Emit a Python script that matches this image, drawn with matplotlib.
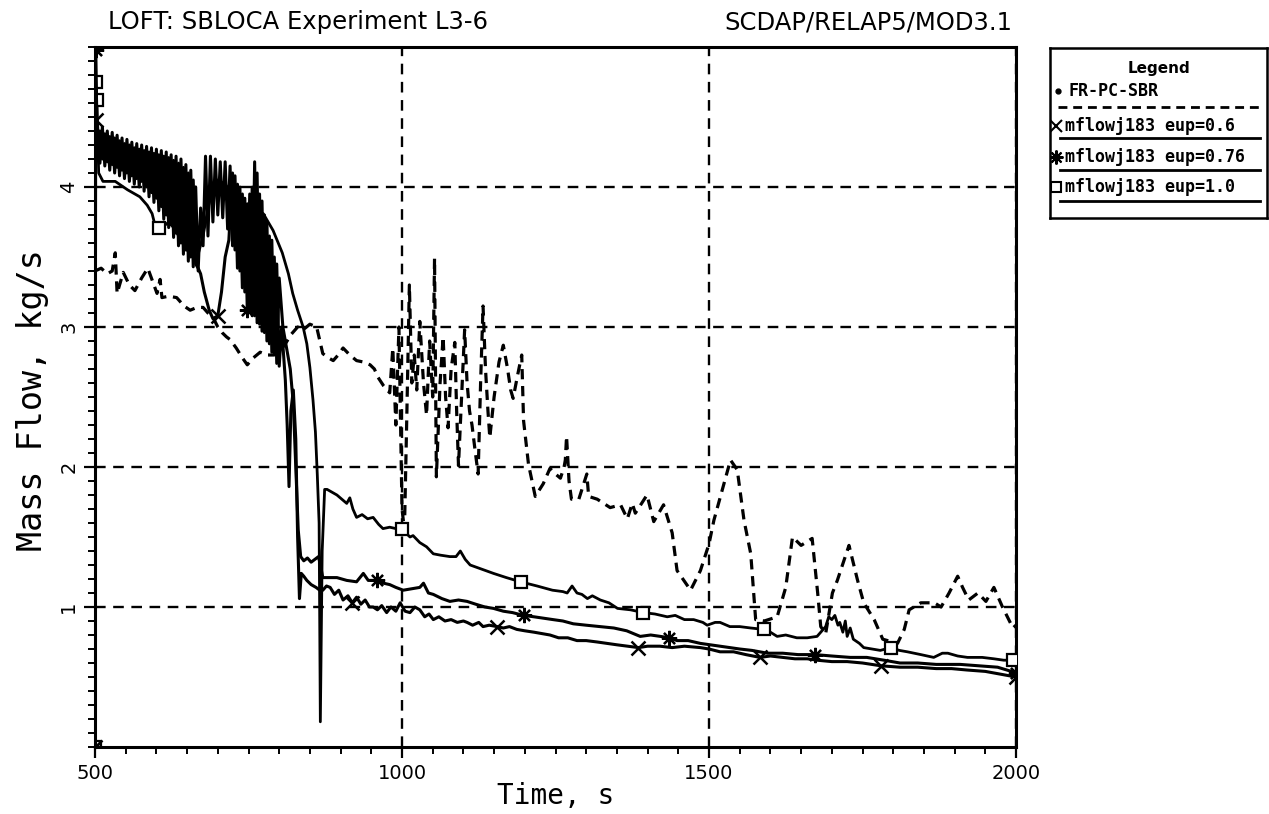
import numpy as np
import matplotlib
matplotlib.use("Agg")
import matplotlib.pyplot as plt
from matplotlib.ticker import MultipleLocator, FixedLocator

# ---------------- data ----------------
# experimental data FR-PC-SBR
exp_t = [500, 510, 520, 528, 533, 536, 546, 556, 565, 576, 586, 596, 601, 606, 609, 620, 633, 645,
         655, 666, 676, 684, 692, 700, 707, 714, 720, 730, 740, 748, 758, 769, 780, 790, 800, 810,
         820, 830, 839, 850, 861, 871, 880, 888, 896, 904, 915, 926, 937, 948, 955, 961, 970, 980,
         985, 990, 995, 1000, 1004, 1008, 1012, 1016, 1020, 1024, 1029, 1035, 1040, 1045, 1050,
         1053, 1056, 1062, 1067, 1071, 1075, 1080, 1086, 1089, 1092, 1097, 1102, 1106, 1110, 1114,
         1119, 1124, 1128, 1132, 1136, 1140, 1143, 1150, 1158, 1165, 1172, 1177, 1181, 1188, 1195,
         1198, 1206, 1217, 1230, 1241, 1250, 1258, 1264, 1266, 1268, 1272, 1276, 1288, 1301, 1304,
         1318, 1339, 1356, 1367, 1375, 1380, 1399, 1410, 1426, 1440, 1448, 1470, 1486, 1500, 1508,
         1535, 1546, 1557, 1568, 1576, 1590, 1611, 1625, 1636, 1650, 1668, 1677, 1682, 1690, 1701,
         1709, 1728, 1742, 1752, 1769, 1783, 1807, 1818, 1826, 1845, 1867, 1878, 1891, 1905, 1913,
         1923, 1938, 1951, 1964, 1978, 1995, 2000]
exp_v = [3.40, 3.42, 3.38, 3.40, 3.53, 3.24, 3.39, 3.30, 3.26, 3.35, 3.42, 3.30, 3.24, 3.34, 3.21,
         3.22, 3.21, 3.15, 3.12, 3.14, 3.14, 3.10, 3.07, 3.00, 2.96, 2.93, 2.91, 2.85, 2.78, 2.73,
         2.78, 2.82, 2.80, 2.80, 2.82, 2.88, 2.95, 3.00, 2.98, 3.02, 3.00, 2.81, 2.78, 2.76, 2.80,
         2.85, 2.80, 2.76, 2.75, 2.73, 2.70, 2.64, 2.58, 2.53, 2.85, 2.30, 3.00, 1.70, 1.55, 2.40,
         3.30, 2.60, 2.80, 2.55, 3.04, 2.60, 2.37, 2.90, 2.50, 3.49, 1.93, 2.60, 2.93, 2.50, 2.28,
         2.70, 2.89, 2.40, 2.01, 2.50, 2.98, 2.60, 2.40, 2.30, 2.12, 1.95, 2.60, 3.15, 2.70, 2.40,
         2.21, 2.50, 2.75, 2.87, 2.70, 2.55, 2.49, 2.65, 2.80, 2.33, 2.02, 1.79, 1.88, 1.99, 1.95,
         1.92, 2.00, 2.05, 2.22, 1.90, 1.77, 1.77, 1.95, 1.79, 1.77, 1.71, 1.73, 1.63, 1.74, 1.67,
         1.80, 1.61, 1.73, 1.53, 1.26, 1.12, 1.26, 1.45, 1.62, 2.05, 1.98, 1.62, 1.38, 0.91, 0.90,
         0.93, 1.14, 1.50, 1.44, 1.49, 1.10, 0.86, 0.81, 1.10, 1.19, 1.44, 1.19, 1.03, 0.91, 0.77,
         0.74, 0.84, 0.98, 1.03, 1.03, 1.00, 1.10, 1.22, 1.14, 1.05, 1.10, 1.04, 1.14, 1.00, 0.85,
         0.87]

# mflowj183 eup=1.0 (squares)
a_t = [500, 501, 503, 506, 513, 533, 553, 573, 585, 593, 597, 604, 612, 620, 630, 640, 650, 660,
       668, 676, 684, 692, 700, 712, 724, 736, 748, 760, 774, 790, 805, 815, 822, 830, 839, 845,
       850, 855, 859, 862, 865, 867, 870, 874, 878, 886, 894, 902, 910, 915, 920, 926, 935, 944,
       953, 962, 969, 980, 990, 1000, 1006, 1013, 1018, 1029, 1040, 1051, 1063, 1078, 1088, 1095,
       1103, 1111, 1130, 1149, 1170, 1193, 1220, 1245, 1262, 1269, 1277, 1285, 1293, 1302, 1310,
       1323, 1337, 1351, 1372, 1393, 1412, 1432, 1445, 1460, 1475, 1490, 1497, 1510, 1518, 1534,
       1550, 1568, 1589, 1600, 1611, 1625, 1643, 1660, 1676, 1684, 1690, 1695, 1700, 1705, 1710,
       1713, 1718, 1722, 1725, 1730, 1735, 1745, 1752, 1765, 1779, 1796, 1810, 1823, 1845, 1866,
       1880, 1889, 1905, 1921, 1945, 1964, 1980, 1995, 2000]
a_v = [0.00, 4.75, 4.62, 4.10, 4.04, 4.04, 3.98, 3.93, 3.87, 3.81, 3.74, 3.71, 3.72, 3.75, 3.70,
       3.62, 3.55, 3.50, 3.52, 3.65, 3.85, 4.00, 4.05, 4.02, 3.95, 3.88, 3.85, 3.84, 3.81, 3.69,
       3.53, 3.38, 3.24, 3.12, 3.00, 2.88, 2.71, 2.48, 2.25, 1.95, 1.60, 0.18, 1.40, 1.84, 1.84,
       1.82, 1.80, 1.77, 1.74, 1.78, 1.70, 1.64, 1.66, 1.63, 1.64, 1.59, 1.56, 1.57, 1.56, 1.56,
       1.53, 1.50, 1.51, 1.46, 1.43, 1.38, 1.37, 1.36, 1.36, 1.40, 1.34, 1.30, 1.27, 1.24, 1.21,
       1.18, 1.15, 1.12, 1.11, 1.10, 1.15, 1.10, 1.09, 1.06, 1.08, 1.05, 1.03, 0.99, 0.98, 0.96,
       0.95, 0.93, 0.94, 0.91, 0.91, 0.89, 0.87, 0.89, 0.89, 0.86, 0.86, 0.85, 0.84, 0.82, 0.79,
       0.80, 0.78, 0.78, 0.79, 0.83, 0.86, 0.93, 0.91, 0.94, 0.87, 0.89, 0.82, 0.90, 0.79, 0.85,
       0.77, 0.74, 0.71, 0.70, 0.69, 0.71, 0.69, 0.68, 0.66, 0.64, 0.67, 0.67, 0.65, 0.64, 0.64,
       0.63, 0.62, 0.62, 0.61]

# mflowj183 eup=0.76 (asterisks)
b_t = [500, 501, 503] + list(range(504, 804, 4)) + [
       806, 812, 818, 823, 827, 831, 835, 840, 846, 852, 858, 864, 868, 871, 880, 894, 910, 926,
       937, 945, 959, 970, 980, 990, 1002, 1015, 1029, 1035, 1043, 1051, 1065, 1078, 1092, 1106,
       1120, 1135, 1149, 1165, 1180, 1198, 1215, 1230, 1246, 1262, 1279, 1300, 1323, 1345, 1366,
       1388, 1405, 1421, 1435, 1448, 1466, 1486, 1518, 1550, 1570, 1595, 1620, 1645, 1673, 1700,
       1730, 1757, 1785, 1811, 1840, 1870, 1909, 1940, 1970, 2000]
b_v = [0.00, 4.98, 4.50,
       4.45, 4.17, 4.43, 4.15, 4.40, 4.12, 4.39, 4.10, 4.37, 4.08, 4.35, 4.06, 4.34, 4.04, 4.32,
       4.02, 4.31, 4.00, 4.30, 3.97, 4.29, 3.93, 4.28, 3.89, 4.27, 3.83, 4.26, 3.77, 4.25, 3.71,
       4.23, 3.64, 4.22, 3.58, 4.20, 3.52, 4.16, 3.47, 4.12, 3.43, 4.00, 3.40, 3.85, 3.58, 4.22,
       3.65, 4.22, 3.75, 4.20, 3.80, 4.18, 3.78, 4.18, 3.70, 4.15, 3.58, 4.08, 3.42, 4.00, 3.28,
       3.92, 3.12, 3.95, 3.08, 4.18, 3.03, 3.95, 2.97, 3.80, 2.90, 3.65, 2.82, 3.50, 2.74, 3.35,
       3.00, 2.85, 2.70, 2.45, 2.00, 1.55, 1.36, 1.33, 1.35, 1.32, 1.34, 1.36, 1.28, 1.21, 1.21,
       1.21, 1.19, 1.18, 1.24, 1.19, 1.19, 1.17, 1.16, 1.14, 1.12, 1.13, 1.14, 1.17, 1.10, 1.09,
       1.06, 1.04, 1.05, 1.04, 1.02, 1.00, 0.99, 0.97, 0.96, 0.94, 0.93, 0.92, 0.91, 0.90, 0.88,
       0.87, 0.86, 0.85, 0.83, 0.79, 0.80, 0.79, 0.78, 0.76, 0.76, 0.74, 0.72, 0.70, 0.69, 0.67,
       0.67, 0.66, 0.66, 0.65, 0.64, 0.64, 0.62, 0.60, 0.60, 0.59, 0.59, 0.58, 0.57, 0.53]

# mflowj183 eup=0.6 (crosses)
c_t = [500, 501, 503] + list(range(508, 668, 4)) + [
       668, 672, 678, 686, 692, 700, 706, 712, 718] + list(range(724, 808, 4)) + [
       810, 813, 816, 819, 823, 827, 830, 833, 836, 840, 845, 852, 860, 866, 871, 877, 883,
       890, 897, 904, 912, 919, 926, 933, 940, 947, 953, 960, 967, 975, 982, 990, 997, 1005, 1013,
       1021, 1029, 1037, 1044, 1051, 1060, 1070, 1080, 1090, 1100, 1106, 1115, 1125, 1132, 1142,
       1155, 1165, 1175, 1187, 1200, 1215, 1228, 1241, 1255, 1270, 1285, 1300, 1318, 1334, 1350,
       1368, 1385, 1400, 1420, 1440, 1460, 1486, 1500, 1518, 1540, 1560, 1583, 1600, 1620, 1640,
       1660, 1676, 1700, 1725, 1750, 1780, 1811, 1840, 1870, 1895, 1920, 1950, 1975, 2000]
c_v = [0.00, 4.48, 4.35,
       4.40, 4.20, 4.38, 4.18, 4.36, 4.16, 4.35, 4.14, 4.33, 4.12, 4.31, 4.10, 4.30, 4.08, 4.28,
       4.06, 4.27, 4.04, 4.26, 4.00, 4.25, 3.96, 4.24, 3.92, 4.23, 3.86, 4.22, 3.80, 4.21, 3.73,
       4.19, 3.67, 4.17, 3.60, 4.14, 3.55, 4.10, 3.50, 4.05, 3.45,
       3.42, 3.38, 3.25, 3.12, 3.06, 3.08, 3.25, 3.50, 3.62,
       4.10, 3.55, 4.02, 3.40, 3.95, 3.25, 3.88, 3.13, 4.00, 3.08, 4.10, 3.02, 3.90, 2.96, 3.75,
       2.88, 3.62, 2.80, 3.45, 2.72, 3.00,
       2.62, 2.30, 1.86, 2.40, 2.55, 2.20, 1.50, 1.06, 1.24, 1.22, 1.19, 1.16, 1.14, 1.12,
       1.12, 1.15, 1.14, 1.09, 1.12, 1.05, 1.08, 1.03, 1.07, 1.02, 1.05, 1.00, 1.00, 0.98, 1.01,
       0.96, 1.00, 0.97, 1.03, 0.97, 0.96, 1.00, 0.98, 0.93, 0.95, 0.91, 0.93, 0.90, 0.91, 0.89,
       0.90, 0.89, 0.87, 0.89, 0.86, 0.87, 0.86, 0.85, 0.86, 0.84, 0.83, 0.82, 0.81, 0.80, 0.78,
       0.78, 0.76, 0.76, 0.75, 0.74, 0.73, 0.72, 0.71, 0.72, 0.72, 0.71, 0.72, 0.71, 0.70, 0.68,
       0.68, 0.66, 0.64, 0.65, 0.64, 0.63, 0.63, 0.62, 0.61, 0.61, 0.60, 0.58, 0.57, 0.57, 0.56,
       0.56, 0.55, 0.54, 0.52, 0.50]

# marker times
a_marks = [500, 501, 503, 604, 1000, 1193, 1393, 1589, 1796, 1995]
b_marks = [500, 501, 748, 959, 1198, 1435, 1673, 2000]
c_marks = [500, 501, 700, 919, 1155, 1385, 1583, 1780, 2000]

x_ticks = [500, 1000, 1500, 2000]
y_ticks = [1, 2, 3, 4]
title_left = "LOFT: SBLOCA Experiment L3-6"
title_right = "SCDAP/RELAP5/MOD3.1"
legend_labels = ["FR-PC-SBR", "mflowj183 eup=0.6", "mflowj183 eup=0.76", "mflowj183 eup=1.0"]

# ---------------- plot ----------------
plt.rcParams['font.family'] = ['DejaVu Sans']
W, H = 1269, 814
fig = plt.figure(figsize=(W / 100, H / 100), dpi=100)
ax = fig.add_axes([95 / W, 1 - 747 / H, (1016 - 95) / W, (747 - 47) / H])
ax.set_xlim(500, 2000)
ax.set_ylim(0, 5)


def idx(t, marks):
    t = np.asarray(t, dtype=float)
    return [int(np.argmin(np.abs(t - m))) for m in marks]


ax.plot(exp_t, exp_v, color='black', lw=2.3, linestyle=(0, (3.2, 2.1)), zorder=3)
ax.plot(a_t, a_v, color='black', lw=2.0, marker='s', ms=8, mfc='white', mec='black', mew=1.6,
        markevery=idx(a_t, a_marks), zorder=4)
ax.plot(b_t, b_v, color='black', lw=2.2, marker=(8, 2, 0), ms=11, mec='black', mew=1.6,
        markevery=idx(b_t, b_marks), zorder=4)
ax.plot(c_t, c_v, color='black', lw=2.2, marker='x', ms=10, mec='black', mew=1.8,
        markevery=idx(c_t, c_marks), zorder=4)

ax.xaxis.set_major_locator(FixedLocator(x_ticks))
ax.xaxis.set_minor_locator(MultipleLocator(50))
ax.yaxis.set_major_locator(FixedLocator(y_ticks))
ax.yaxis.set_minor_locator(MultipleLocator(0.1))
ax.tick_params(which='major', direction='out', length=8, width=1.6, labelsize=14, pad=4)
ax.tick_params(which='minor', direction='out', length=5, width=1.4)
for lab in ax.get_yticklabels():
    lab.set_rotation(90)
    lab.set_va('center')
ax.grid(True, which='major', color='black', linestyle=(0, (4.5, 3.2)), linewidth=1.7, zorder=1)
for sp in ax.spines.values():
    sp.set_linewidth(2.2)

fig.text(108 / W, 1 - 22 / H, title_left, fontsize=17.5, ha='left', va='center')
fig.text(1012 / W, 1 - 22 / H, title_right, fontsize=17.5, ha='right', va='center')
fig.text(556 / W, 1 - 796 / H, "Time, s", fontsize=20, family='DejaVu Sans Mono',
         ha='center', va='center')
fig.text(33 / W, 1 - 400 / H, "Mass Flow, kg/s", fontsize=24, family='DejaVu Sans Mono',
         ha='center', va='center', rotation=90)

# legend box
lg = fig.add_axes([1050 / W, 1 - 218 / H, 217 / W, 170 / H])
lg.set_xlim(0, 217)
lg.set_ylim(170, 0)
lg.set_xticks([])
lg.set_yticks([])
for sp in lg.spines.values():
    sp.set_linewidth(1.8)
lg.text(109, 20, "Legend", fontsize=11, fontweight='bold', ha='center', va='center')
lg.plot([8], [43], marker='o', ms=3.5, color='black')
lg.text(18, 43, legend_labels[0], fontsize=12, fontweight='bold', family='DejaVu Sans Mono',
        ha='left', va='center')
lg.plot([8, 210], [59, 59], color='black', lw=2.0, linestyle=(0, (3.2, 2.1)))
rows = [(78, 90, 'x', 9, legend_labels[1]), (109, 122, (8, 2, 0), 10, legend_labels[2]),
        (139, 153, 's', 7, legend_labels[3])]
for ty, ly, mk, ms, lab in rows:
    lg.plot([6], [ty], marker=mk, ms=ms, mfc='white', mec='black', mew=1.5, color='black')
    lg.text(15, ty, lab, fontsize=12, fontweight='bold', family='DejaVu Sans Mono',
            ha='left', va='center')
    lg.plot([10, 210], [ly, ly], color='black', lw=2.0)

fig.savefig("out.png", dpi=100)
